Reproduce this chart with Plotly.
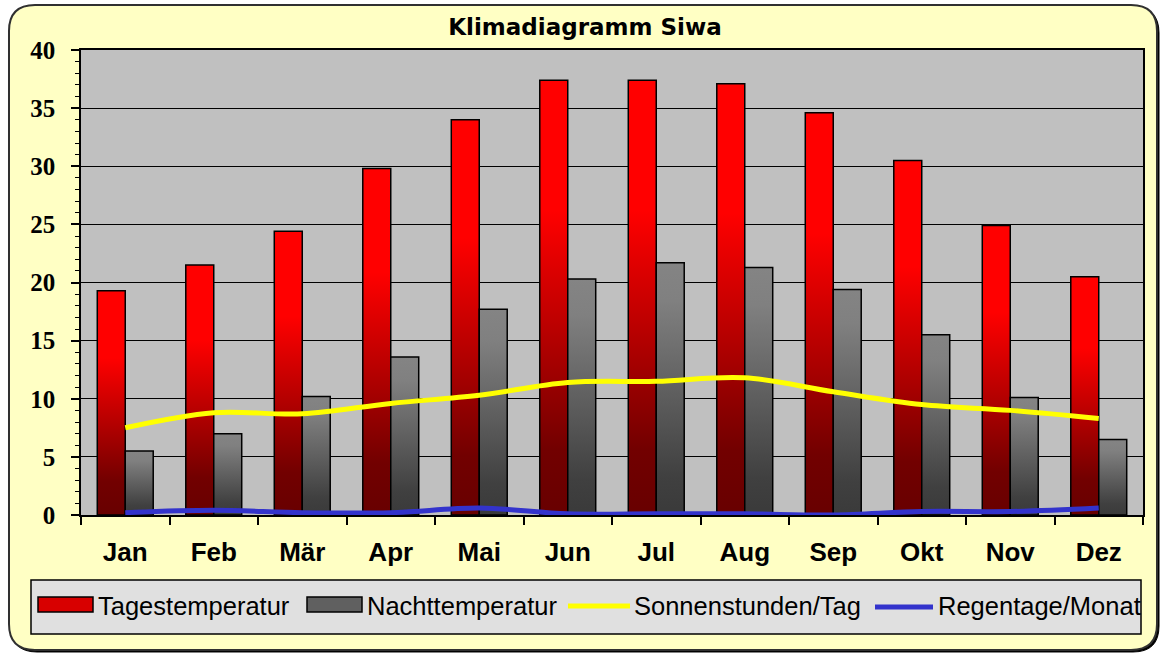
import plotly.graph_objects as go

# ---------------- data ----------------
months = ["Jan", "Feb", "Mär", "Apr", "Mai", "Jun", "Jul", "Aug", "Sep", "Okt", "Nov", "Dez"]
tagestemperatur = [19.3, 21.5, 24.4, 29.8, 34.0, 37.4, 37.4, 37.1, 34.6, 30.5, 24.9, 20.5]
nachttemperatur = [5.5, 7.0, 10.2, 13.6, 17.7, 20.3, 21.7, 21.3, 19.4, 15.5, 10.1, 6.5]
sonnenstunden = [7.5, 8.8, 8.7, 9.6, 10.3, 11.4, 11.5, 11.8, 10.6, 9.5, 9.0, 8.3]
regentage = [0.2, 0.4, 0.2, 0.2, 0.6, 0.1, 0.1, 0.1, 0.0, 0.3, 0.3, 0.6]
y_ticks = [0, 5, 10, 15, 20, 25, 30, 35, 40]
series_names = ["Tagestemperatur", "Nachttemperatur", "Sonnenstunden/Tag", "Regentage/Monat"]
title_text = "Klimadiagramm Siwa"

# ---------------- layout geometry ----------------
W, H = 1161, 654
L, R, T, B = 81, 18, 50, 139
PW, PH = W - L - R, H - T - B


def px(x):
    return (x - L) / PW


def py(y):
    return (H - B - y) / PH


def pt(x, y):
    return f"{px(x):.5f},{py(y):.5f}"


RED_CS = [[0, "#680000"], [0.15, "#720000"], [0.7, "#FF0000"], [1, "#FF0000"]]
GRAY_CS = [[0, "#3A3A3A"], [0.15, "#404040"], [0.85, "#808080"], [1, "#848484"]]
BAR_W = 0.316

fig = go.Figure()

# bars as gradient-filled polygons positioned on the numeric category axis
for i, v in enumerate(tagestemperatur):
    fig.add_trace(go.Scatter(
        x=[i - BAR_W, i - BAR_W, i, i, i - BAR_W], y=[0, v, v, 0, 0],
        mode="lines", fill="toself",
        fillgradient=dict(type="vertical", colorscale=RED_CS),
        line=dict(color="#000000", width=1.5),
        name=series_names[0], legendgroup="t", showlegend=False, hoverinfo="skip"))
for i, v in enumerate(nachttemperatur):
    fig.add_trace(go.Scatter(
        x=[i, i, i + BAR_W, i + BAR_W, i], y=[0, v, v, 0, 0],
        mode="lines", fill="toself",
        fillgradient=dict(type="vertical", colorscale=GRAY_CS),
        line=dict(color="#000000", width=1.5),
        name=series_names[1], legendgroup="n", showlegend=False, hoverinfo="skip"))

xs = list(range(len(months)))
fig.add_trace(go.Scatter(x=xs, y=sonnenstunden, mode="lines",
                         line=dict(color="#FFFF00", width=5, shape="spline"),
                         name=series_names[2], showlegend=False))
fig.add_trace(go.Scatter(x=xs, y=regentage, mode="lines",
                         line=dict(color="#3333CC", width=5, shape="spline"),
                         name=series_names[3], showlegend=False))

# ---------------- background / border ----------------
def rounded(x0, y0, x1, y1, r):
    return (f"M {pt(x0 + r, y0)} L {pt(x1 - r, y0)} Q {pt(x1, y0)} {pt(x1, y0 + r)} "
            f"L {pt(x1, y1 - r)} Q {pt(x1, y1)} {pt(x1 - r, y1)} "
            f"L {pt(x0 + r, y1)} Q {pt(x0, y1)} {pt(x0, y1 - r)} "
            f"L {pt(x0, y0 + r)} Q {pt(x0, y0)} {pt(x0 + r, y0)} Z")


shapes = [
    dict(type="path", xref="paper", yref="paper", path=rounded(11, 7, 1159, 652, 26),
         fillcolor="#000000", line=dict(color="#000000", width=1), layer="below"),
    dict(type="path", xref="paper", yref="paper", path=rounded(9, 5, 1157, 650, 26),
         fillcolor="#FFFFC4", line=dict(color="#303030", width=2), layer="below"),
    # plot area background
    dict(type="rect", xref="paper", yref="paper", x0=0, x1=1, y0=0, y1=1,
         fillcolor="#C0C0C0", line=dict(width=0), layer="below"),
    # legend box
    dict(type="rect", xref="paper", yref="paper", x0=px(31), x1=px(1141), y0=py(580), y1=py(634),
         fillcolor="#E0E0E0", line=dict(color="#000000", width=1.5), layer="above"),
    # legend symbols
    dict(type="rect", xref="paper", yref="paper", x0=px(38), x1=px(93), y0=py(597), y1=py(612),
         fillcolor="#D80000", line=dict(color="#000000", width=1.5), layer="above"),
    dict(type="rect", xref="paper", yref="paper", x0=px(307), x1=px(362), y0=py(597), y1=py(612),
         fillcolor="#606060", line=dict(color="#000000", width=1.5), layer="above"),
    dict(type="line", xref="paper", yref="paper", x0=px(568), x1=px(630), y0=py(606), y1=py(606),
         line=dict(color="#FFFF00", width=5), layer="above"),
    dict(type="line", xref="paper", yref="paper", x0=px(875), x1=px(933), y0=py(607), y1=py(607),
         line=dict(color="#3333CC", width=5), layer="above"),
]

legend_text_x = [96, 365, 632, 936]
annotations = [
    dict(xref="paper", yref="paper", x=px(tx), y=py(606), text=name, showarrow=False,
         xanchor="left", yanchor="middle",
         font=dict(family="Liberation Sans, Arial, sans-serif", size=25.5, color="#000000"))
    for tx, name in zip(legend_text_x, series_names)
]

fig.update_layout(
    width=W, height=H, autosize=False,
    margin=dict(l=L, r=R, t=T, b=B, pad=0),
    paper_bgcolor="#FFFFFF",
    plot_bgcolor="rgba(0,0,0,0)",
    showlegend=False,
    title=dict(text=title_text, x=585 / W, xref="container", xanchor="center",
               y=1 - 27 / H, yref="container", yanchor="middle",
               font=dict(family="DejaVu Sans, sans-serif", size=23, color="#000000", weight="bold")),
    shapes=shapes,
    annotations=annotations,
    xaxis=dict(
        range=[-0.5, len(months) - 0.5], tickmode="array", tickvals=xs, ticktext=months,
        ticks="", showgrid=False, zeroline=False,
        showline=True, linecolor="#000000", linewidth=1.5, mirror=True,
        tickfont=dict(family="Liberation Sans, Arial, sans-serif", size=26, color="#000000", weight="bold"),
        ticklabelstandoff=13,
        minor=dict(tickmode="array", tickvals=[k - 0.5 for k in range(len(months) + 1)],
                   ticks="outside", ticklen=8, tickcolor="#000000", tickwidth=1.5, showgrid=False),
    ),
    yaxis=dict(
        range=[0, 40], tickmode="array", tickvals=y_ticks,
        ticks="outside", ticklen=8, tickcolor="#000000", tickwidth=1.5,
        showgrid=True, gridcolor="#000000", gridwidth=1, zeroline=False,
        showline=True, linecolor="#000000", linewidth=1.5, mirror=True,
        tickfont=dict(family="Liberation Serif, Times New Roman, serif", size=25, color="#000000", weight="bold"),
        ticklabelstandoff=11,
        minor=dict(dtick=1, ticks="outside", ticklen=4, tickcolor="#000000", tickwidth=1, showgrid=False),
    ),
)

fig.write_html("out.html", config={"displayModeBar": False},
               post_script="document.body.style.margin='0';document.body.style.overflow='hidden';")
